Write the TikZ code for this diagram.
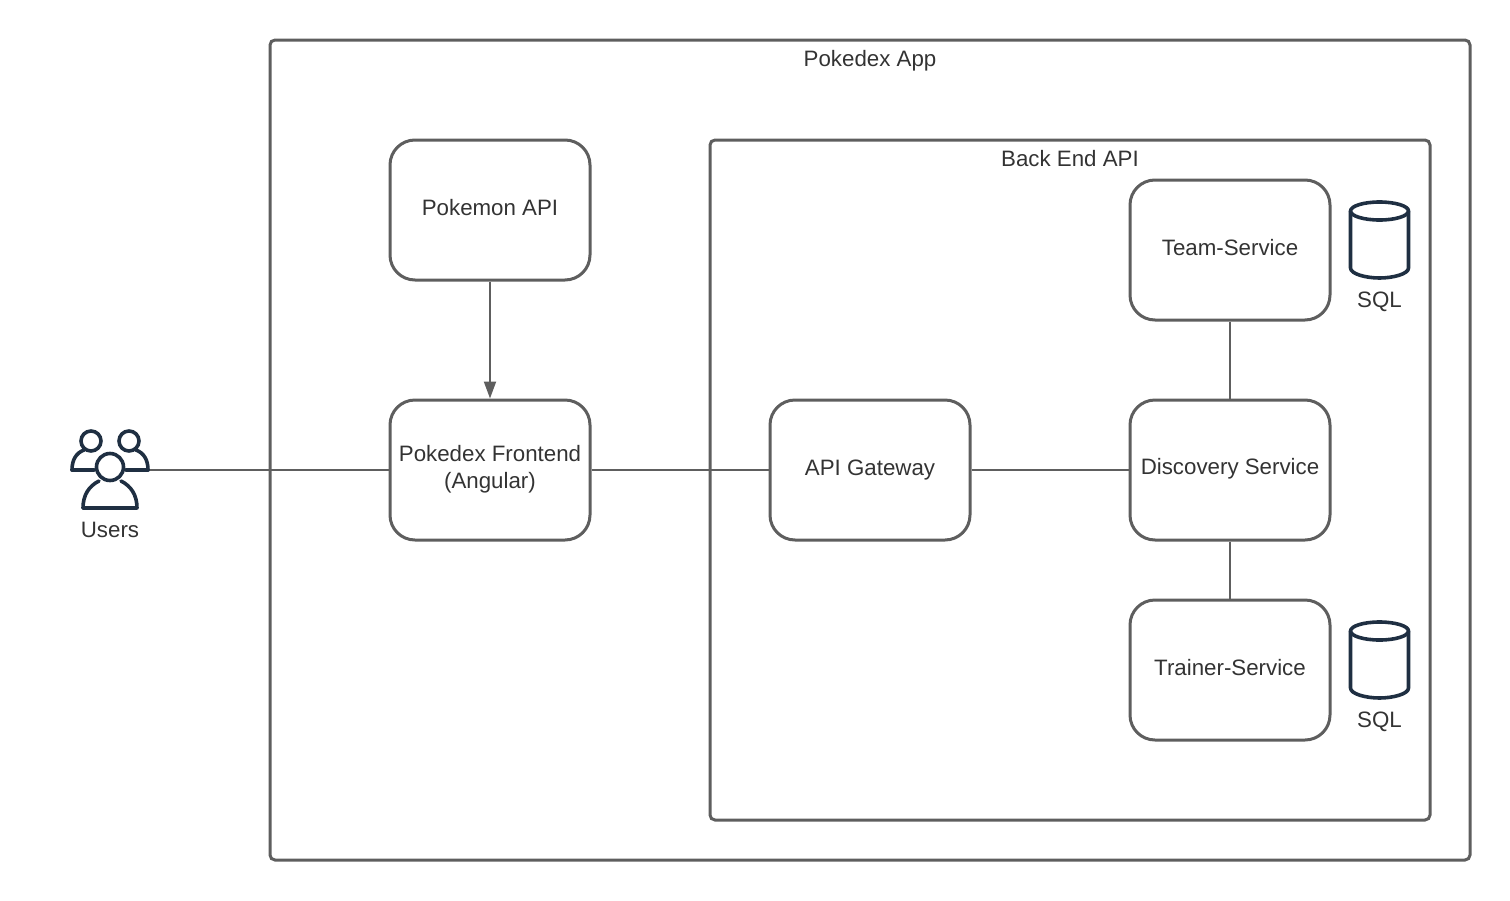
\documentclass[tikz,border=0pt]{standalone}
\usepackage{fontspec}
\setmainfont{Liberation Sans}
\usetikzlibrary{arrows.meta}
\definecolor{edge}{HTML}{5E5E5E}
\definecolor{ink}{HTML}{333333}
\definecolor{icon}{HTML}{1F2F42}
\tikzset{x=1pt,y=-1pt,
  container/.style={draw=edge,line width=3pt,rounded corners=5pt,anchor=north west,inner sep=0pt,outer sep=0pt},
  svc/.style={draw=edge,line width=3pt,rounded corners=25pt,minimum width=200pt,minimum height=140pt,inner sep=0pt},
  txt/.style={text=ink,font=\fontsize{22.3pt}{27pt}\selectfont,align=center,inner sep=0pt},
  conn/.style={draw=edge,line width=2pt},
  ico/.style={draw=icon,line width=3.6pt,line cap=round,line join=round}}
\newcommand{\dbicon}[2]{%
  \draw[ico] (#1+0.5,#2+11) -- (#1+0.5,#2+68) .. controls (#1+0.5,#2+74) and (#1+16,#2+78) .. (#1+29.5,#2+78)
     .. controls (#1+43,#2+78) and (#1+58.5,#2+74) .. (#1+58.5,#2+68) -- (#1+58.5,#2+11);
  \draw[ico] (#1+29.5,#2+11) ellipse [x radius=29pt,y radius=9pt];}
\begin{document}
\begin{tikzpicture}
\useasboundingbox (0,0) rectangle (1510,900);
\node[container,minimum width=1200pt,minimum height=820pt] (app) at (270,40) {};
\node[container,minimum width=720pt,minimum height=680pt] (backend) at (710,140) {};
\node[svc] (pokeapi) at (490,210) {};
\node[svc] (front) at (490,470) {};
\node[svc] (gateway) at (870,470) {};
\node[svc] (team) at (1230,250) {};
\node[svc] (disc) at (1230,470) {};
\node[svc] (trainer) at (1230,670) {};
\node[txt] (lapp) at (870,60.5) {Pokedex App};
\node[txt] (lback) at (1070,158.5) {Back End API};
\node[txt] (lpoke) at (490,207.5) {Pokemon API};
\node[txt] (lfront) at (490,469.5) {Pokedex Frontend\\(Angular)};
\node[txt] (lgate) at (870,470) {API Gateway};
\node[txt] (lteam) at (1230,247.5) {Team-Service};
\node[txt] (ldisc) at (1230,469) {Discovery Service};
\node[txt] (ltrain) at (1230,667.5) {Trainer-Service};
\node[txt] (lsql1) at (1379.5,301.5) {SQL};
\node[txt] (lsql2) at (1379.5,721.5) {SQL};
\node[txt] (lusers) at (110,529.5) {Users};
\coordinate (usersend) at (149,470);
\draw[conn] (usersend) -- (front.west);
\draw[conn] (front.east) -- (gateway.west);
\draw[conn] (gateway.east) -- (disc.west);
\draw[conn] (team.south) -- (disc.north);
\draw[conn] (disc.south) -- (trainer.north);
\draw[conn,-{Triangle[length=17pt,width=12pt]}] (pokeapi.south) -- (front.north);
\dbicon{1350}{200}
\dbicon{1350}{620}
% users icon
\draw[ico] (91,441) circle (10pt);
\draw[ico] (129,441) circle (10pt);
\draw[ico] (72,470) .. controls (72,460) and (76,453) .. (84,450);
\draw[ico] (72,470) -- (94,470);
\draw[ico] (148,470) .. controls (148,460) and (144,453) .. (136,450);
\draw[ico] (148,470) -- (126,470);
\draw[ico] (110,467) circle (13.5pt);
\draw[ico] (83,508) -- (137,508) .. controls (137,495) and (131,486) .. (121,481);
\draw[ico] (83,508) .. controls (83,495) and (89,486) .. (99,481);
\end{tikzpicture}
\end{document}
